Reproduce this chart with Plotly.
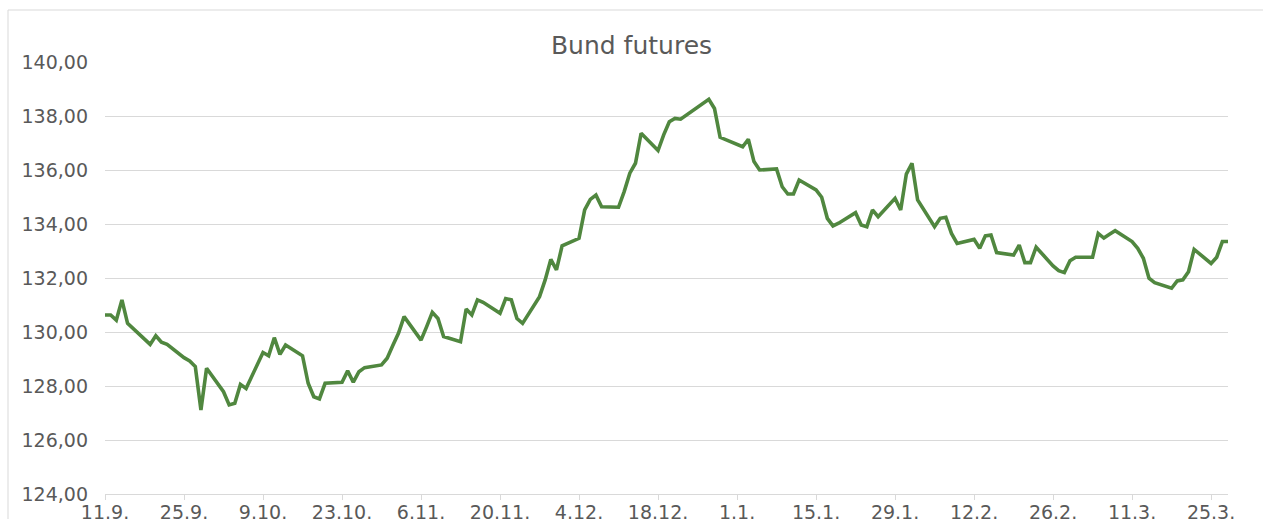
import plotly.graph_objects as go

dates = [
    "2023-09-11", "2023-09-12", "2023-09-13", "2023-09-14", "2023-09-15",
    "2023-09-18", "2023-09-19", "2023-09-20", "2023-09-21", "2023-09-22",
    "2023-09-25", "2023-09-26", "2023-09-27", "2023-09-28", "2023-09-29",
    "2023-10-02", "2023-10-03", "2023-10-04", "2023-10-05", "2023-10-06",
    "2023-10-09", "2023-10-10", "2023-10-11", "2023-10-12", "2023-10-13",
    "2023-10-16", "2023-10-17", "2023-10-18", "2023-10-19", "2023-10-20",
    "2023-10-23", "2023-10-24", "2023-10-25", "2023-10-26", "2023-10-27",
    "2023-10-30", "2023-10-31", "2023-11-01", "2023-11-02", "2023-11-03",
    "2023-11-06", "2023-11-07", "2023-11-08", "2023-11-09", "2023-11-10",
    "2023-11-13", "2023-11-14", "2023-11-15", "2023-11-16", "2023-11-17",
    "2023-11-20", "2023-11-21", "2023-11-22", "2023-11-23", "2023-11-24",
    "2023-11-27", "2023-11-28", "2023-11-29", "2023-11-30", "2023-12-01",
    "2023-12-04", "2023-12-05", "2023-12-06", "2023-12-07", "2023-12-08",
    "2023-12-11", "2023-12-12", "2023-12-13", "2023-12-14", "2023-12-15",
    "2023-12-18", "2023-12-19", "2023-12-20", "2023-12-21", "2023-12-22",
    "2023-12-27", "2023-12-28", "2023-12-29",
    "2024-01-02", "2024-01-03", "2024-01-04", "2024-01-05",
    "2024-01-08", "2024-01-09", "2024-01-10", "2024-01-11", "2024-01-12",
    "2024-01-15", "2024-01-16", "2024-01-17", "2024-01-18", "2024-01-19",
    "2024-01-22", "2024-01-23", "2024-01-24", "2024-01-25", "2024-01-26",
    "2024-01-29", "2024-01-30", "2024-01-31", "2024-02-01", "2024-02-02",
    "2024-02-05", "2024-02-06", "2024-02-07", "2024-02-08", "2024-02-09",
    "2024-02-12", "2024-02-13", "2024-02-14", "2024-02-15", "2024-02-16",
    "2024-02-19", "2024-02-20", "2024-02-21", "2024-02-22", "2024-02-23",
    "2024-02-26", "2024-02-27", "2024-02-28", "2024-02-29", "2024-03-01",
    "2024-03-04", "2024-03-05", "2024-03-06", "2024-03-07", "2024-03-08",
    "2024-03-11", "2024-03-12", "2024-03-13", "2024-03-14", "2024-03-15",
    "2024-03-18", "2024-03-19", "2024-03-20", "2024-03-21", "2024-03-22",
    "2024-03-25", "2024-03-26", "2024-03-27", "2024-03-28",
]

bund_values = [
    130.63, 130.63, 130.44, 131.19, 130.32,
    129.73, 129.54, 129.86, 129.62, 129.54,
    129.05, 128.93, 128.72, 127.11, 128.66,
    127.79, 127.30, 127.36, 128.06, 127.91,
    129.24, 129.12, 129.79, 129.17, 129.52,
    129.12, 128.10, 127.60, 127.52, 128.10,
    128.14, 128.56, 128.14, 128.53, 128.68,
    128.78, 129.03, 129.50, 129.95, 130.57,
    129.70, 130.20, 130.73, 130.50, 129.83,
    129.64, 130.85, 130.63, 131.19, 131.10,
    130.69, 131.24, 131.19, 130.50, 130.32,
    131.31, 131.93, 132.69, 132.30, 133.19,
    133.47, 134.52, 134.91, 135.07, 134.64,
    134.62, 135.20, 135.88, 136.25, 137.36,
    136.72, 137.30, 137.79, 137.91, 137.88,
    138.62, 138.28, 137.21,
    136.86, 137.14, 136.31, 136.00,
    136.04, 135.38, 135.11, 135.11, 135.63,
    135.26, 134.99, 134.21, 133.93, 134.03,
    134.42, 133.96, 133.90, 134.52, 134.27,
    134.95, 134.52, 135.85, 136.25, 134.89,
    133.90, 134.21, 134.25, 133.65, 133.28,
    133.43, 133.10, 133.56, 133.59, 132.94,
    132.85, 133.22, 132.57, 132.57, 133.14,
    132.45, 132.27, 132.20, 132.64, 132.77,
    132.77, 133.65, 133.48, 133.62, 133.75,
    133.35, 133.10, 132.73, 131.99, 131.83,
    131.62, 131.89, 131.93, 132.23, 133.06,
    132.54, 132.77, 133.35, 133.35,
]

x_tick_dates = [
    "2023-09-11", "2023-09-25", "2023-10-09", "2023-10-23", "2023-11-06",
    "2023-11-20", "2023-12-04", "2023-12-18", "2024-01-01", "2024-01-15",
    "2024-01-29", "2024-02-12", "2024-02-26", "2024-03-11", "2024-03-25",
]
x_tick_labels = [
    "11.9.", "25.9.", "9.10.", "23.10.", "6.11.", "20.11.", "4.12.", "18.12.",
    "1.1.", "15.1.", "29.1.", "12.2.", "26.2.", "11.3.", "25.3.",
]
y_tick_values = [124, 126, 128, 130, 132, 134, 136, 138, 140]

title_text = "Bund futures"

W, H = 1263, 519
ml, mr, mt, mb = 105, 35, 62, 25
pw = W - ml - mr
ph = H - mt - mb

fig = go.Figure()
fig.add_trace(go.Scatter(
    x=dates, y=bund_values, mode="lines",
    line=dict(color="#50873F", width=3.6),
    hoverinfo="skip", showlegend=False,
))

font_family = "DejaVu Sans"
grey = "#595959"
gridc = "#D9D9D9"

fig.update_layout(
    width=W, height=H,
    margin=dict(l=ml, r=mr, t=mt, b=mb, pad=0, autoexpand=False),
    paper_bgcolor="white", plot_bgcolor="white",
    separators=",.",
    font=dict(family=font_family, color=grey, size=19),
    title=dict(text=title_text, x=0.5, xref="container", xanchor="center",
               y=1 - 45 / H, yref="container", yanchor="middle",
               font=dict(family=font_family, size=25, color=grey)),
    showlegend=False,
    xaxis=dict(
        type="date", range=["2023-09-11", "2024-03-28"],
        tickvals=x_tick_dates, ticktext=x_tick_labels,
        showgrid=False, zeroline=False, automargin=False,
        showline=True, linecolor=gridc, linewidth=1,
        ticks="outside", ticklen=5, tickcolor=gridc, tickwidth=1,
        ticklabelstandoff=-4,
        tickfont=dict(family=font_family, size=19, color=grey),
        fixedrange=True,
    ),
    yaxis=dict(
        range=[124, 140], tickvals=y_tick_values, tickformat=".2f",
        showgrid=True, gridcolor=gridc, gridwidth=1,
        zeroline=False, showline=False, ticks="", automargin=False,
        ticklabelstandoff=16,
        tickfont=dict(family=font_family, size=19, color=grey),
        fixedrange=True,
    ),
    shapes=[dict(
        type="rect", xref="paper", yref="paper",
        x0=(8 - ml) / pw, x1=(W + 5 - ml) / pw,
        y0=(mt + ph - (H + 5)) / ph, y1=(mt + ph - 10) / ph,
        line=dict(color=gridc, width=1), fillcolor="rgba(0,0,0,0)", layer="below",
    )],
)

fig.write_html("out.html", config={"displayModeBar": False},
               post_script="document.body.style.margin='0';")
